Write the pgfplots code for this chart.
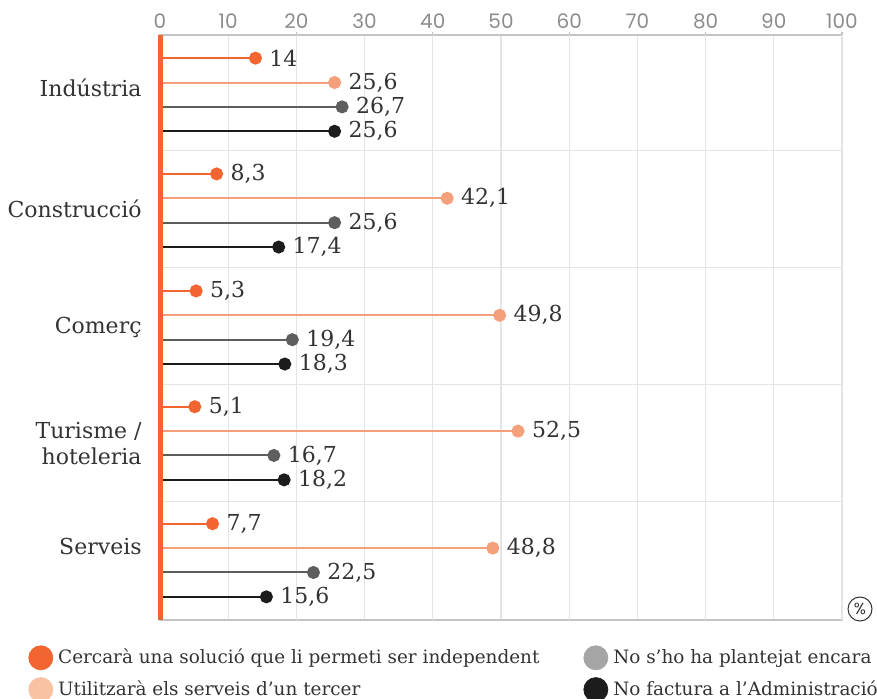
\documentclass[border=0pt]{standalone}
\usepackage{fontspec}
\setmainfont{DejaVu Serif}
\newfontfamily\tickfont{Poppins}
\usepackage{pgfplots}
\pgfplotsset{compat=1.18}
\definecolor{cOr}{HTML}{F26430}
\definecolor{cLt}{HTML}{F5A07A}
\definecolor{cLtL}{HTML}{F9C2A3}
\definecolor{cGr}{HTML}{5E5E5E}
\definecolor{cGrL}{HTML}{A5A5A5}
\definecolor{cBk}{HTML}{1C1C1C}
\definecolor{cTxt}{HTML}{333333}
\definecolor{cTick}{HTML}{8C8C8C}
\definecolor{cGridD}{HTML}{C4C4C4}
\definecolor{cGridL}{HTML}{E4E4E4}
\pgfplotsset{
  lolli/.style={xcomb, line width=1pt, color=#1, mark=*, mark size=2.75pt,
    mark options={fill=#1, draw=none},
    point meta=x,
    nodes near coords={\pgfmathprintnumber[fixed,precision=1,use comma]{\pgfplotspointmeta}},
    every node near coord/.style={anchor=west, xshift=6.5pt, inner sep=0pt, text=cTxt, font=\fontsize{11}{12}\selectfont},
    forget plot},
}
\begin{document}
\begin{tikzpicture}
\begin{axis}[
  scale only axis, width=341pt, height=292.5pt,
  xmin=0, xmax=100, ymin=0, ymax=24, y dir=reverse,
  clip=false,
  axis line style={cGridD, line width=0.6pt},
  xtick={0,10,...,100},
  xtick pos=upper, xticklabel pos=upper,
  tick align=outside,
  major tick length=0pt,
  xmajorgrids,
  x grid style={cGridL, line width=0.6pt},
  extra x ticks={20,40,60,80,100},
  extra x tick labels={},
  extra x tick style={grid=major, major grid style={cGridD, line width=0.6pt}, major tick length=1.5pt, tick style={cGridD, line width=0.6pt}},
  ytick={4.75,9.55,14.35,19.15}, yticklabels={},
  ytick style={draw=none},
  ymajorgrids, y grid style={cGridL, line width=0.6pt},
  /pgf/number format/assume math mode=true,
  xticklabel style={font=\tickfont\fontsize{10}{11}\selectfont, text=cTick, yshift=-0.5pt},
  legend columns=2, transpose legend,
  legend image code/.code={\fill (6pt,0pt) circle (6pt);},
  legend style={at={(0,0)}, anchor=north west, xshift=-66pt, yshift=-12.5pt,
    draw=none, fill=none, inner sep=0pt, text=cTxt,
    font=\fontsize{9.2}{11}\selectfont,
    nodes={inner sep=0pt},
    /tikz/every odd column/.style={column sep=2.5pt},
    /tikz/every even column/.style={column sep=22pt},
    row sep=3.5pt},
  legend cell align=left,
]
\addlegendimage{color=cOr}
\addlegendentry{Cercarà una solució que li permeti ser independent}
\addlegendimage{color=cLtL}
\addlegendentry{Utilitzarà els serveis d’un tercer}
\addlegendimage{color=cGrL}
\addlegendentry{No s’ho ha plantejat encara}
\addlegendimage{color=cBk}
\addlegendentry{No factura a l’Administració}

\addplot[lolli=cOr] coordinates {(14,0.95) (8.3,5.7) (5.3,10.5) (5.1,15.25) (7.7,20.05)};
\addplot[lolli=cLt] coordinates {(25.6,1.95) (42.1,6.7) (49.8,11.5) (52.5,16.25) (48.8,21.05)};
\addplot[lolli=cGr] coordinates {(26.7,2.95) (25.6,7.7) (19.4,12.5) (16.7,17.25) (22.5,22.05)};
\addplot[lolli=cBk] coordinates {(25.6,3.95) (17.4,8.7) (18.3,13.5) (18.2,18.25) (15.6,23.05)};

\begin{scope}[every node/.style={anchor=base east, inner sep=0pt, xshift=-9pt, text=cTxt, font=\fontsize{11}{12}\selectfont}]
\node at (axis cs:0,2.54) {Indústria};
\node at (axis cs:0,7.47) {Construcció};
\node at (axis cs:0,12.23) {Comerç};
\node at (axis cs:0,16.57) {Turisme /};
\node at (axis cs:0,17.64) {hoteleria};
\node at (axis cs:0,21.33) {Serveis};
\end{scope}
\end{axis}
\draw[cOr, line width=2.5pt] (current axis.south west) -- (current axis.north west);
\node[circle, draw=cTxt, line width=0.5pt, inner sep=0pt, minimum size=12pt, text=cTxt, font=\tickfont\fontsize{8}{8}\selectfont] at ([xshift=9pt,yshift=5.5pt]current axis.south east) {\%};
\pgfresetboundingbox
\path (current axis.south west) ++(-80pt,-39.5pt) rectangle ++(438.5pt,349.5pt);
\end{tikzpicture}
\end{document}
